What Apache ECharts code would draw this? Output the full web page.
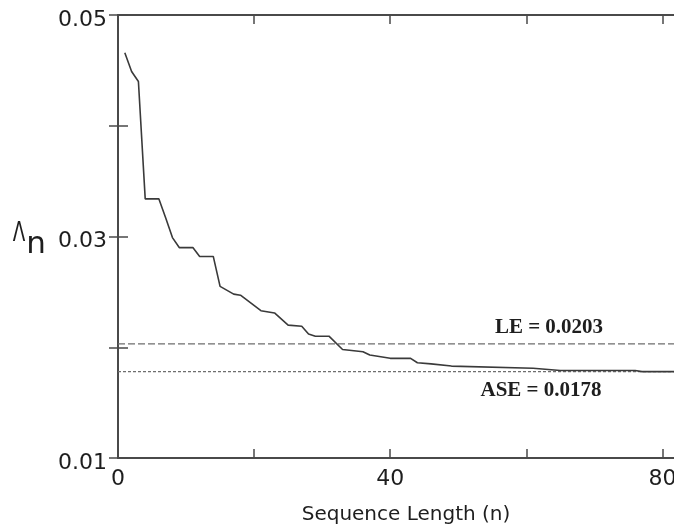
<!DOCTYPE html>
<html>
<head>
<meta charset="utf-8">
<script src="https://cdn.jsdelivr.net/npm/echarts@6/dist/echarts.min.js"></script>
<style>html,body{margin:0;padding:0;background:#fff;}#c{width:674px;height:528px;}</style>
</head>
<body>
<div id="c"></div>
<script>
// Sequence length n and the estimate Λn
var seqN = [1, 2, 3, 4, 6, 7, 8, 9, 11, 12, 14, 15, 17, 18, 21, 23, 25, 27, 28, 29, 31, 33, 36, 37, 40, 43, 44, 46, 49, 61, 65, 76, 77, 82];
var lambdaN = [0.0466, 0.0449, 0.0440, 0.0334, 0.0334, 0.0317, 0.0299, 0.0290, 0.0290, 0.0282, 0.0282, 0.0255, 0.0248, 0.0247, 0.0233, 0.0231, 0.0220, 0.0219, 0.0212, 0.0210, 0.0210, 0.0198, 0.0196, 0.0193, 0.0190, 0.0190, 0.0186, 0.0185, 0.0183, 0.0181, 0.0179, 0.0179, 0.0178, 0.0178];
var LE = 0.0203;
var ASE = 0.0178;
var xRange = [0, 82];
var xTickLabels = [0, 40, 80];
var yTickLabels = ['0.01', '0.03', '0.05'];

var chart = echarts.init(document.getElementById('c'), null, {renderer: 'canvas'});
var data = seqN.map(function (n, i) { return [n, lambdaN[i]]; });
var axisColor = '#4a4a4a';
var tickFont = {fontFamily: 'DejaVu Sans', fontSize: 22, color: '#1e1e1e'};

chart.setOption({
  animation: false,
  backgroundColor: '#fff',
  grid: {left: 118, top: 15, width: 558, bottom: 70, containLabel: false, outerBoundsMode: 'none'},
  xAxis: [{
    type: 'value', min: xRange[0], max: xRange[1], interval: 20, position: 'bottom',
    axisLine: {show: true, lineStyle: {color: axisColor, width: 2}},
    axisTick: {show: true, inside: true, length: 9, lineStyle: {color: axisColor, width: 1.5}},
    splitLine: {show: false},
    axisLabel: Object.assign({margin: 10, showMaxLabel: false, formatter: function (v) {
      return xTickLabels.indexOf(v) >= 0 ? String(v) : '';
    }}, tickFont)
  }, {
    type: 'value', min: xRange[0], max: xRange[1], interval: 20, position: 'top',
    axisLine: {show: true, lineStyle: {color: axisColor, width: 2}},
    axisTick: {show: true, inside: true, length: 9, lineStyle: {color: axisColor, width: 1.5}},
    splitLine: {show: false}, axisLabel: {show: false}
  }],
  yAxis: [{
    type: 'value', min: 0.01, max: 0.05, interval: 0.01, position: 'left',
    axisLine: {show: true, lineStyle: {color: axisColor, width: 2}},
    axisTick: {show: true, inside: true, length: 10, lineStyle: {color: axisColor, width: 1.5}},
    splitLine: {show: false},
    axisLabel: {margin: 11, formatter: function (v) {
      var s = v.toFixed(2);
      return yTickLabels.indexOf(s) >= 0 ? '{t|' + s + '}' : '';
    }, rich: {t: {fontFamily: 'DejaVu Sans', fontSize: 22, color: '#1e1e1e', padding: [10, 0, 0, 0]}}}
  }, {
    type: 'value', min: 0.01, max: 0.05, interval: 0.01, position: 'right',
    axisLine: {show: true, lineStyle: {color: axisColor, width: 2}},
    axisTick: {show: true, inside: true, length: 9, lineStyle: {color: axisColor, width: 1.5}},
    splitLine: {show: false}, axisLabel: {show: false}
  }],
  series: [{
    type: 'line', xAxisIndex: 0, yAxisIndex: 0, data: [[xRange[0], LE], [xRange[1], LE]],
    showSymbol: false, symbol: 'none', silent: true, z: 1,
    lineStyle: {type: [7, 3], color: '#6e6e6e', width: 1.2}
  }, {
    type: 'line', xAxisIndex: 0, yAxisIndex: 0, data: [[xRange[0], ASE], [xRange[1], ASE]],
    showSymbol: false, symbol: 'none', silent: true, z: 1,
    lineStyle: {type: [3, 2], color: '#6e6e6e', width: 1.2}
  }, {
    type: 'line', xAxisIndex: 0, yAxisIndex: 0, data: data, z: 2,
    showSymbol: false, symbol: 'none', smooth: false,
    lineStyle: {color: '#3a3a3a', width: 1.6}
  }],
  graphic: [
    {type: 'text', x: 406, y: 515, style: {text: 'Sequence Length (n)', fontFamily: 'DejaVu Sans', fontSize: 20, fill: '#1e1e1e', align: 'center', verticalAlign: 'middle'}},
    {type: 'text', x: 19, y: 234, scaleX: 0.68, style: {text: 'Λ', fontFamily: 'DejaVu Sans', fontSize: 27, fill: '#1e1e1e', align: 'center', verticalAlign: 'middle'}},
    {type: 'text', x: 36, y: 245, style: {text: 'n', fontFamily: 'DejaVu Sans', fontSize: 31, fill: '#1e1e1e', align: 'center', verticalAlign: 'middle'}},
    {type: 'text', x: 549, y: 328, style: {text: 'LE = ' + LE.toFixed(4), fontFamily: 'Liberation Serif', fontWeight: 'bold', fontSize: 21, fill: '#1e1e1e', align: 'center', verticalAlign: 'middle'}},
    {type: 'text', x: 541, y: 391, style: {text: 'ASE = ' + ASE.toFixed(4), fontFamily: 'Liberation Serif', fontWeight: 'bold', fontSize: 21, fill: '#1e1e1e', align: 'center', verticalAlign: 'middle'}}
  ]
});
</script>
</body>
</html>
